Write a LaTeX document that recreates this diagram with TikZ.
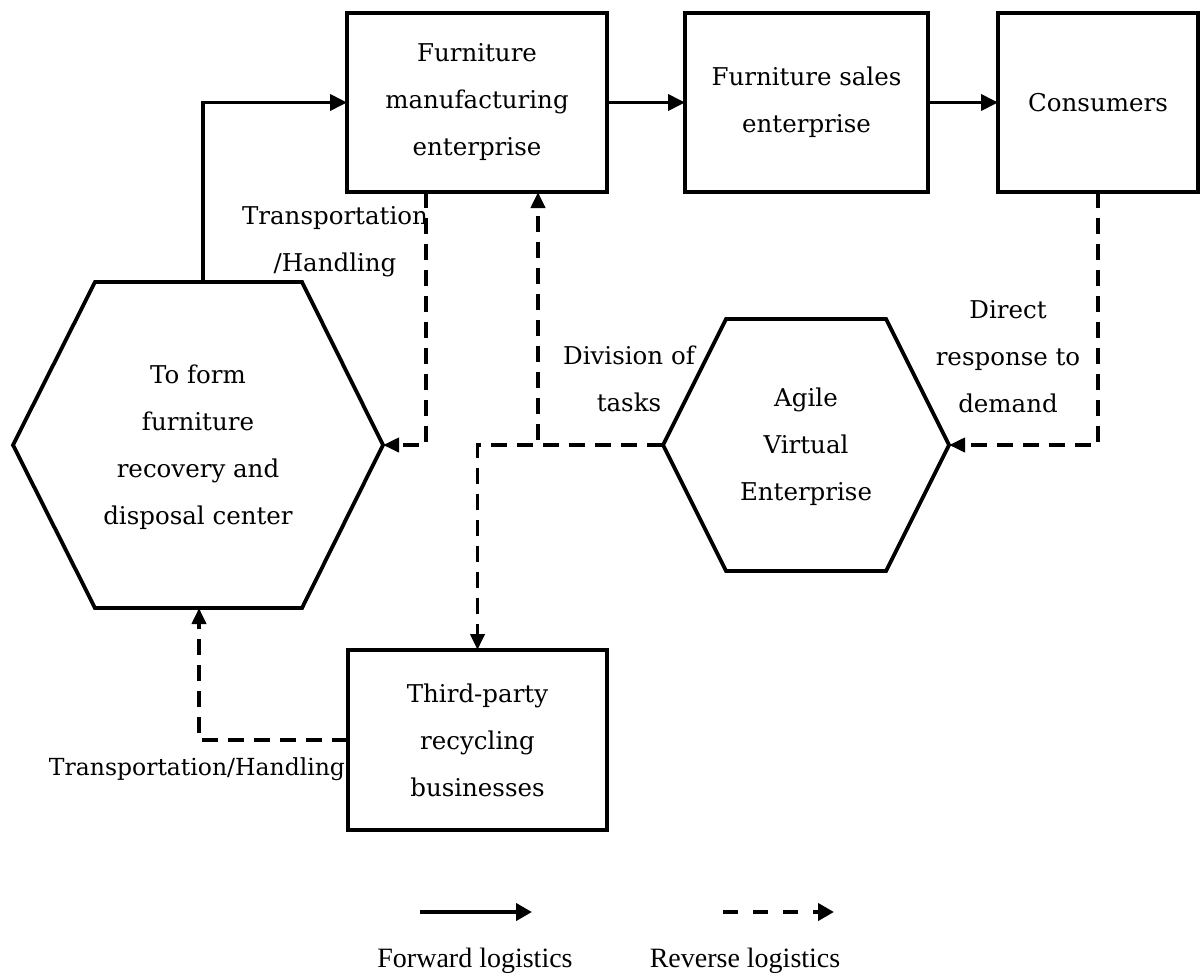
\documentclass[tikz,border=0pt]{standalone}
\usepackage{fontspec}
\setmainfont{DejaVu Serif}
\newfontfamily\legendfont{Liberation Serif}
\usetikzlibrary{arrows.meta}

\begin{document}
\begin{tikzpicture}[x=1pt,y=-1pt,
  every node/.style={inner sep=0pt,outer sep=0pt},
  txt/.style={align=center,font=\fontsize{24.5}{47}\selectfont},
  box/.style={txt,draw,line width=3.8pt},
  hexshape/.style={draw,line width=3.8pt,line join=miter},
  fwd/.style={line width=3.8pt,-{Triangle[length=17pt,width=16pt]}},
  rev/.style={line width=3.8pt,dash pattern=on 16pt off 10pt,-{Triangle[length=16pt,width=14pt]}},
  lbl/.style={txt},
  legend/.style={font=\legendfont\fontsize{28}{34}\selectfont}]
\useasboundingbox (0,0) rectangle (1201,972);

% top row of enterprises
\node[box,minimum width=260pt,minimum height=179pt] (manuf) at (477,102.5)
  {Furniture\\manufacturing\\enterprise};
\node[box,minimum width=243pt,minimum height=179pt] (sales) at (806.5,102.5)
  {Furniture sales\\enterprise};
\node[box,minimum width=200pt,minimum height=179pt] (cons) at (1098,102.5)
  {Consumers};
\node[box,minimum width=259pt,minimum height=180pt] (third) at (477.5,740)
  {Third-party\\recycling\\businesses};

% recovery and disposal center (hexagon)
\draw[hexshape] (13,445) -- (95,282) -- (302,282) -- (383,445)
  -- (302,608) -- (95,608) -- cycle;
\coordinate (rec-top) at (203,282);
\coordinate (rec-right) at (383,445);
\coordinate (rec-bottom) at (199,608);
\node[txt] (rec) at (198,447)
  {To form\\furniture\\recovery and\\disposal center};

% agile virtual enterprise (hexagon)
\draw[hexshape] (663,445) -- (726,319) -- (886,319) -- (949,445)
  -- (886,571) -- (726,571) -- cycle;
\coordinate (agile-left) at (663,445);
\coordinate (agile-right) at (949,445);
\node[txt] (agile) at (806,447) {Agile\\Virtual\\Enterprise};

% forward flows
\draw[fwd] (rec-top) |- (manuf.west);
\draw[fwd] (manuf) -- (sales);
\draw[fwd] (sales) -- (cons);

% reverse flows
\draw[rev] ([xshift=-51pt]manuf.south) |- (rec-right);
\draw[rev] (cons.south) |- (agile-right);
\draw[rev] (agile-left) -| ([xshift=61pt]manuf.south);
\draw[rev] (agile-left) -| (third.north);
\draw[rev] (third.west) -| (rec-bottom);

% flow labels
\node[lbl] (lab-th1) at (335,242) {Transportation\\/Handling};
\node[lbl] (lab-div) at (629,379) {Division of\\tasks};
\node[lbl] (lab-dir) at (1008,357) {Direct\\response to\\demand};
\node[lbl,font=\fontsize{23.5}{47}\selectfont,anchor=base] (lab-th2) at (197,775)
  {Transportation/Handling};

% legend
\coordinate (fl-a) at (420,912);
\coordinate (fl-b) at (532,912);
\coordinate (rl-a) at (723,912);
\coordinate (rl-b) at (834,912);
\draw[line width=4.5pt,-{Triangle[length=16pt,width=17pt]}] (fl-a) -- (fl-b);
\draw[line width=4.5pt,dash pattern=on 15pt off 15pt,-{Triangle[length=16pt,width=17pt]}] (rl-a) -- (rl-b);
\node[legend,anchor=base] (fl-text) at (475,967) {Forward logistics};
\node[legend,anchor=base] (rl-text) at (745,967) {Reverse logistics};
\end{tikzpicture}
\end{document}
